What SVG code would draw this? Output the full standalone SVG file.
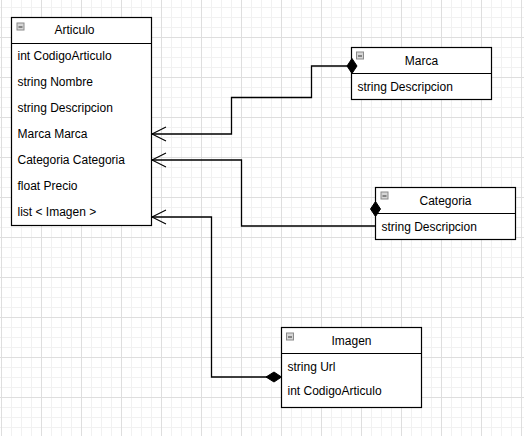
<svg xmlns="http://www.w3.org/2000/svg" width="524" height="436" viewBox="0 0 524 436">
  <defs>
    <pattern id="grid" x="1" y="-3" width="40" height="40" patternUnits="userSpaceOnUse">
      <path d="M10.5 0V40M20.5 0V40M30.5 0V40M0 10.5H40M0 20.5H40M0 30.5H40" stroke="#f1f1f1" stroke-width="1" fill="none"/>
      <path d="M0.5 0V40M0 0.5H40" stroke="#dedede" stroke-width="1" fill="none"/>
    </pattern>
    <marker id="open" markerUnits="userSpaceOnUse" viewBox="-16 -9 18 18" refX="0" refY="0" markerWidth="18" markerHeight="18" orient="auto">
      <path d="M-14 -7L0 0L-14 7" fill="none" stroke="#000" stroke-width="1.1"/>
    </marker>
    <g id="icon">
      <rect x="0.5" y="0.5" width="7" height="7" fill="#d6d6d6" stroke="#8a8a8a" stroke-width="1"/>
      <path d="M2 4.5H6" stroke="#333" stroke-width="1"/>
    </g>
  </defs>
  <style>
    .box{fill:#fff;stroke:#000;stroke-width:1.2}
    .sep{stroke:#000;stroke-width:1.2}
    text{font-family:"Liberation Sans",Arial,sans-serif;font-size:12px;fill:#000}
    .title{text-anchor:middle}
    .edge{fill:none;stroke:#000;stroke-width:1.3}
    .dia{fill:#000;stroke:#000;stroke-width:1}
  </style>
  <rect width="524" height="436" fill="#fff"/>
  <rect width="524" height="436" fill="url(#grid)"/>

  <g id="Articulo">
    <rect class="box" x="11.5" y="17.5" width="140" height="208"/>
    <path class="sep" d="M11.5 43.5H151.5"/>
    <use href="#icon" x="16.5" y="22.5"/>
    <text class="title" x="74.5" y="34.3">Articulo</text>
    <text x="17.5" y="60.3">int CodigoArticulo</text>
    <text x="17.5" y="86.3">string Nombre</text>
    <text x="17.5" y="112.3">string Descripcion</text>
    <text x="17.5" y="138.3">Marca Marca</text>
    <text x="17.5" y="164.3">Categoria Categoria</text>
    <text x="17.5" y="190.3">float Precio</text>
    <text x="17.5" y="216.3">list &lt; Imagen &gt;</text>
  </g>

  <g id="Marca">
    <rect class="box" x="351.5" y="47.5" width="140" height="52"/>
    <path class="sep" d="M351.5 73.5H491.5"/>
    <use href="#icon" x="356" y="51.5"/>
    <text class="title" x="421.5" y="64.5">Marca</text>
    <text x="357.5" y="90.8">string Descripcion</text>
  </g>

  <g id="Categoria">
    <rect class="box" x="375.5" y="187.5" width="140" height="52"/>
    <path class="sep" d="M375.5 213.5H515.5"/>
    <use href="#icon" x="380.5" y="191.5"/>
    <text class="title" x="445.5" y="204.5">Categoria</text>
    <text x="381.5" y="230.8">string Descripcion</text>
  </g>

  <g id="Imagen">
    <rect class="box" x="281.5" y="327.5" width="140" height="80"/>
    <path class="sep" d="M281.5 353.5H421.5"/>
    <use href="#icon" x="286" y="332.5"/>
    <text class="title" x="351.5" y="344.5">Imagen</text>
    <text x="287.5" y="370.8">string Url</text>
    <text x="287.5" y="395">int CodigoArticulo</text>
  </g>

  <g id="connectors">
    <path class="edge" d="M351.5 66H311.5V97.5H231.5V134H152" marker-end="url(#open)"/>
    <path class="edge" d="M375.5 226H241.5V160H152" marker-end="url(#open)"/>
    <path class="edge" d="M274 377H211.5V217H152" marker-end="url(#open)"/>
    <polygon class="dia" points="352,58.5 357,66 352,73.5 347,66"/>
    <polygon class="dia" points="375.5,201.5 380.5,209 375.5,216.5 370.5,209"/>
    <polygon class="dia" points="266,377 274,372 281.5,377 274,382"/>
  </g>
</svg>
